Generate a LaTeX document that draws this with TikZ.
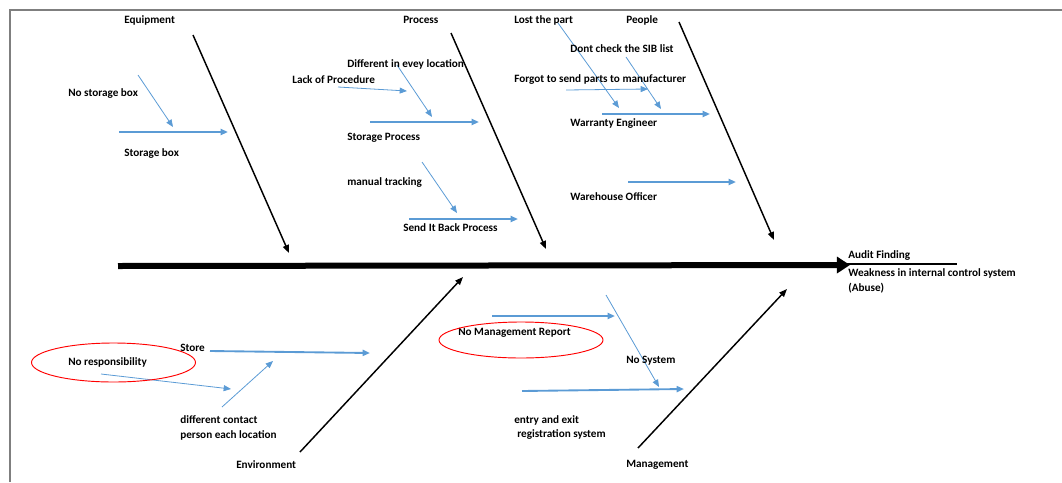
\documentclass[tikz,border=0pt]{standalone}
\usepackage{fontspec}
\setmainfont{Carlito}[BoldFont={Carlito Bold}]
\usetikzlibrary{arrows.meta}
\definecolor{branchblue}{HTML}{5B9BD5}
\definecolor{framegray}{HTML}{7F7F7F}
\definecolor{ringred}{HTML}{FF0000}

\begin{document}
\begin{tikzpicture}[x=0.75pt,y=-0.75pt,
  lbl/.style={inner sep=0pt, anchor=west, font=\fontsize{8.4}{10}\selectfont\bfseries},
  bone/.style={draw=black, line width=1.1pt, -{Triangle[length=6pt,width=4.6pt]}},
  cause/.style={draw=branchblue, line width=1.4pt, -{Triangle[length=5.5pt,width=4.5pt]}},
  subcause/.style={draw=branchblue, line width=0.6pt, -{Triangle[length=5.5pt,width=4.5pt]}},
  ring/.style={draw=ringred, line width=0.7pt}]
\useasboundingbox (0,0) rectangle (1062,482);

% frame
\draw[framegray, line width=1.6pt] (10,482) -- (10,10) -- (1062,10);

% ---- spine and effect ----
\coordinate (spineS) at (118,266);
\coordinate (spineE) at (850,265);
\coordinate (effA) at (845,264);
\coordinate (effB) at (957,264);
\draw[line width=4.5pt, -{Triangle[length=9.8pt,width=12pt]}] (spineS) -- (spineE);
\draw[line width=1.2pt] (effA) -- (effB);
\node[lbl] (audit) at (848,256) {Audit Finding};
\node[lbl] (weak) at (848,273) {Weakness in internal control system};
\node[lbl] (abuse) at (848,288) {(Abuse)};

% ---- main bones ----
\coordinate (eqT) at (193,35);   \coordinate (eqB) at (289,253);
\coordinate (prT) at (451,33);   \coordinate (prB) at (546,249);
\coordinate (peT) at (679,22);   \coordinate (peB) at (774,240);
\coordinate (enB) at (300,452);  \coordinate (enT) at (463,277);
\coordinate (maB) at (638,448);  \coordinate (maT) at (787,289);
\draw[bone] (eqT) -- (eqB);
\draw[bone] (prT) -- (prB);
\draw[bone] (peT) -- (peB);
\draw[bone] (enB) -- (enT);
\draw[bone] (maB) -- (maT);

\node[lbl] (equip) at (124,20) {Equipment};
\node[lbl] (proc) at (403,20) {Process};
\node[lbl] (people) at (626,20) {People};
\node[lbl] (env) at (236,465) {Environment};
\node[lbl] (mgmt) at (626,465) {Management};

% ---- Equipment ----
\coordinate (sbA) at (119,132); \coordinate (sbB) at (228,132);
\coordinate (nsA) at (138,75);  \coordinate (nsB) at (173,127);
\draw[cause] (sbA) -- (sbB);
\draw[subcause] (nsA) -- (nsB);
\node[lbl] (storagebox) at (124,154) {Storage box};
\node[lbl] (nostorage) at (68,94) {No storage box};

% ---- Process ----
\coordinate (spA) at (370,122); \coordinate (spB) at (479,122);
\coordinate (lpA) at (338,87);  \coordinate (lpB) at (407,91);
\coordinate (dlA) at (397,65);  \coordinate (dlB) at (432,117);
\coordinate (sbpA) at (409,219); \coordinate (sbpB) at (518,219);
\coordinate (mtA) at (422,162); \coordinate (mtB) at (457,213);
\draw[cause] (spA) -- (spB);
\draw[subcause] (lpA) -- (lpB);
\draw[subcause] (dlA) -- (dlB);
\draw[cause] (sbpA) -- (sbpB);
\draw[subcause] (mtA) -- (mtB);
\node[lbl] (storproc) at (347,138) {Storage Process};
\node[lbl] (lackproc) at (292,80) {Lack of Procedure};
\node[lbl] (diffloc) at (347,64) {Different in evey location};
\node[lbl] (manual) at (347,183) {manual tracking};
\node[lbl] (sendback) at (403,228) {Send It Back Process};

% ---- People ----
\coordinate (weA) at (602,114); \coordinate (weB) at (710,114);
\coordinate (ltA) at (558,23);  \coordinate (ltB) at (619,108);
\coordinate (dcA) at (626,57);  \coordinate (dcB) at (661,109);
\coordinate (fgA) at (566,90);  \coordinate (fgB) at (648,89);
\coordinate (woA) at (628,182); \coordinate (woB) at (736,182);
\draw[cause] (weA) -- (weB);
\draw[subcause] (ltA) -- (ltB);
\draw[subcause] (dcA) -- (dcB);
\draw[subcause] (fgA) -- (fgB);
\draw[cause] (woA) -- (woB);
\node[lbl] (lost) at (514,20) {Lost the part};
\node[lbl] (sib) at (570,49) {Dont check the SIB list};
\node[lbl] (forgot) at (514,80) {Forgot to send parts to manufacturer};
\node[lbl] (warranty) at (570,124) {Warranty Engineer};
\node[lbl] (warehouse) at (570,197) {Warehouse Officer};

% ---- Environment ----
\coordinate (stA) at (210,351); \coordinate (stB) at (370,353);
\coordinate (nrA) at (101,374); \coordinate (nrB) at (231,389);
\coordinate (dpA) at (222,407); \coordinate (dpB) at (273,361);
\draw[cause] (stA) -- (stB);
\draw[subcause] (nrA) -- (nrB);
\draw[subcause] (dpA) -- (dpB);
\node[lbl] (store) at (180,348) {Store};
\node[lbl] (noresp) at (68,362) {No responsibility};
\node[lbl] (diffc1) at (180,420) {different contact};
\node[lbl] (diffc2) at (180,435) {person each location};
\draw[ring] (113.5,362.5) ellipse [x radius=82, y radius=19.5];

% ---- Management ----
\coordinate (mrA) at (492,316); \coordinate (mrB) at (615,316);
\coordinate (nsyA) at (606,295); \coordinate (nsyB) at (659,387);
\coordinate (eeA) at (522,391); \coordinate (eeB) at (684,389);
\draw[cause] (mrA) -- (mrB);
\draw[subcause] (nsyA) -- (nsyB);
\draw[cause] (eeA) -- (eeB);
\node[lbl] (nomgmt) at (458,333) {No Management Report};
\node[lbl] (nosys) at (626,361) {No System};
\node[lbl] (entry1) at (514,420) {entry and exit};
\node[lbl] (entry2) at (517,435) {registration system};
\draw[ring] (521,340) ellipse [x radius=82, y radius=18];
\end{tikzpicture}
\end{document}
